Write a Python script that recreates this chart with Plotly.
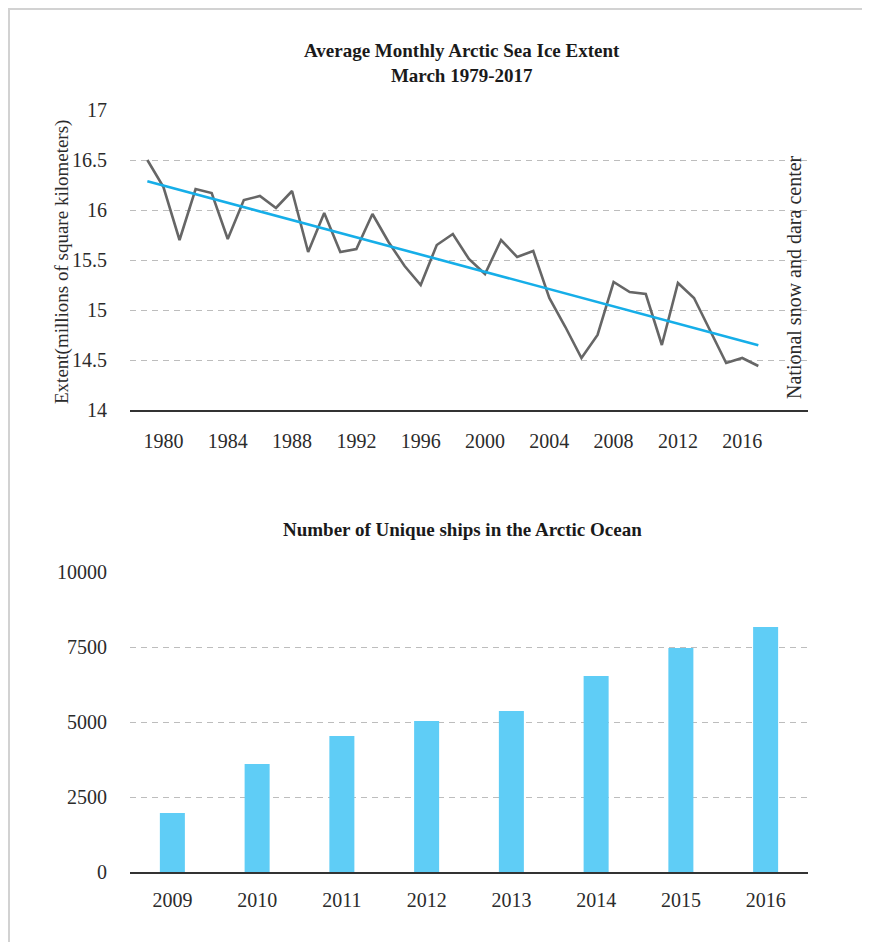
import numpy as np
import plotly.graph_objects as go

# ---------------- data ----------------
ice_years = list(range(1979, 2018))
ice_extent = [16.50, 16.23, 15.70, 16.21, 16.17, 15.71, 16.10, 16.14, 16.02, 16.19,
              15.58, 15.97, 15.58, 15.61, 15.96, 15.68, 15.44, 15.25, 15.65, 15.76,
              15.51, 15.36, 15.70, 15.53, 15.59, 15.12, 14.83, 14.52, 14.75, 15.28,
              15.18, 15.16, 14.65, 15.27, 15.12, 14.80, 14.47, 14.52, 14.44]
ice_tick_years = [1980, 1984, 1988, 1992, 1996, 2000, 2004, 2008, 2012, 2016]
ice_y_ticks = [14, 14.5, 15, 15.5, 16, 16.5, 17]

ship_years = ["2009", "2010", "2011", "2012", "2013", "2014", "2015", "2016"]
ship_counts = [1970, 3600, 4530, 5030, 5370, 6530, 7470, 8170]
ship_y_ticks = [0, 2500, 5000, 7500, 10000]

title_top = "Average Monthly Arctic Sea Ice Extent<br>March 1979-2017"
title_bottom = "Number of Unique ships in the Arctic Ocean"
y_title_top = "Extent(millions of square kilometers)"
source_text = "National snow and dara center"

# trend line: least-squares fit of the extent series
coef = np.polyfit(ice_years, ice_extent, 1)
trend = list(np.polyval(coef, ice_years))

# ---------------- style ----------------
W, H = 870, 942
OFF = 8  # page body margin
FONT = "Liberation Serif"
TXT = "#2b2b2b"
GRID = "#bdbdbd"
AXIS = "#333333"

def px_x(p):
    return (p - OFF) / W

def px_y(p):
    return 1 - (p - OFF) / H

fig = go.Figure()

fig.add_trace(go.Scatter(x=ice_years, y=ice_extent, mode="lines",
                         line=dict(color="#666666", width=2.6),
                         xaxis="x", yaxis="y", showlegend=False))
fig.add_trace(go.Scatter(x=ice_years, y=trend, mode="lines",
                         line=dict(color="#16aee8", width=2.6),
                         xaxis="x", yaxis="y", showlegend=False))
fig.add_trace(go.Bar(x=ship_years, y=ship_counts, marker=dict(color="#5fcdf6", line=dict(width=0)),
                     xaxis="x2", yaxis="y2", showlegend=False))

tickfont = dict(family=FONT, size=20, color=TXT)

fig.update_layout(
    width=W, height=H,
    margin=dict(l=0, r=0, t=0, b=0),
    paper_bgcolor="white", plot_bgcolor="white",
    template="none",
    bargap=0.705,
    xaxis=dict(domain=[px_x(130), px_x(808)], range=[1977.92, 2020.09],
               tickmode="array", tickvals=ice_tick_years, ticktext=[str(v) for v in ice_tick_years],
               showgrid=False, zeroline=False, showline=True, linecolor=AXIS, linewidth=2,
               ticks="outside", ticklen=12, tickcolor="rgba(0,0,0,0)",
               tickfont=tickfont, anchor="y", automargin=False),
    yaxis=dict(domain=[px_y(410), px_y(110)], range=[14, 17],
               tickmode="array", tickvals=ice_y_ticks, ticktext=[("%g" % v) for v in ice_y_ticks],
               showgrid=True, gridcolor=GRID, gridwidth=1, griddash="6px,5px",
               zeroline=False, showline=False,
               ticks="outside", ticklen=18, tickcolor="rgba(0,0,0,0)",
               tickfont=tickfont, anchor="x", automargin=False),
    xaxis2=dict(domain=[px_x(130), px_x(808)], type="category",
                showgrid=False, zeroline=False, showline=True, linecolor=AXIS, linewidth=2,
                ticks="outside", ticklen=9, tickcolor="rgba(0,0,0,0)",
                tickfont=tickfont, anchor="y2", automargin=False),
    yaxis2=dict(domain=[px_y(872), px_y(572)], range=[0, 10000],
                tickmode="array", tickvals=ship_y_ticks, ticktext=[str(v) for v in ship_y_ticks],
                showgrid=True, gridcolor=GRID, gridwidth=1, griddash="6px,5px",
                zeroline=False, showline=False,
                ticks="outside", ticklen=18, tickcolor="rgba(0,0,0,0)",
                tickfont=tickfont, anchor="x2", automargin=False),
    annotations=[
        dict(text="<b>" + title_top.replace("<br>", "</b><br><b>") + "</b>",
             x=px_x(462), y=px_y(63), xref="paper", yref="paper",
             xanchor="center", yanchor="middle", showarrow=False,
             font=dict(family=FONT, size=19, color="#1a1a1a")),
        dict(text="<b>" + title_bottom + "</b>",
             x=px_x(462), y=px_y(529), xref="paper", yref="paper",
             xanchor="center", yanchor="middle", showarrow=False,
             font=dict(family=FONT, size=19, color="#1a1a1a")),
        dict(text=y_title_top, textangle=-90,
             x=px_x(62), y=px_y(262), xref="paper", yref="paper",
             xanchor="center", yanchor="middle", showarrow=False,
             font=dict(family=FONT, size=19, color=TXT)),
        dict(text=source_text, textangle=-90,
             x=px_x(794), y=px_y(401), xref="paper", yref="paper",
             xanchor="center", yanchor="bottom", showarrow=False,
             font=dict(family=FONT, size=20, color=TXT)),
    ],
    shapes=[
        dict(type="line", xref="paper", yref="paper",
             x0=1 / W, x1=1 / W, y0=1, y1=0,
             line=dict(color="#d2d2d2", width=2)),
        dict(type="line", xref="paper", yref="paper",
             x0=0, x1=1, y0=1 - 1 / H, y1=1 - 1 / H,
             line=dict(color="#d2d2d2", width=2)),
    ],
)

fig.write_html("out.html")
